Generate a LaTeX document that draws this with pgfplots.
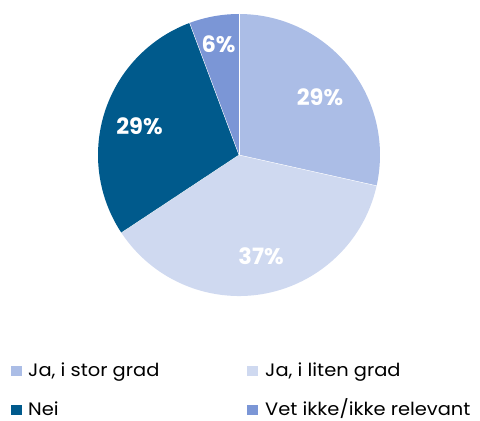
\documentclass[border=0pt]{standalone}
\usepackage{pgfplots}
\pgfplotsset{compat=1.18}
\usepackage{fontspec}
\setmainfont{Poppins}
\newfontfamily\legfont[FakeStretch=1.08]{Poppins}
\definecolor{c1}{HTML}{ABBDE6}
\definecolor{c2}{HTML}{CFD9F0}
\definecolor{c3}{HTML}{005A8C}
\definecolor{c4}{HTML}{7B96D6}
% shares (percent)
\def\vA{28.5}\def\vB{37.2}\def\vC{28.6}\def\vD{5.7}
\pgfmathsetmacro{\aO}{90}
\pgfmathsetmacro{\aA}{\aO-3.6*\vA}
\pgfmathsetmacro{\aB}{\aA-3.6*\vB}
\pgfmathsetmacro{\aC}{\aB-3.6*\vC}
\pgfmathsetmacro{\aD}{\aC-3.6*\vD}
\begin{document}
\begin{tikzpicture}
\begin{axis}[
  x=1pt, y=1pt, xmin=0, xmax=480, ymin=0, ymax=421,
  hide axis, clip=false,
]
\path (axis cs:0,0) rectangle (axis cs:480,421);
\fill[c1] (axis cs:239,266) -- +(\aO:141pt) arc[start angle=\aO, end angle=\aA, radius=141pt] -- cycle;
\fill[c2] (axis cs:239,266) -- +(\aA:141pt) arc[start angle=\aA, end angle=\aB, radius=141pt] -- cycle;
\fill[c3] (axis cs:239,266) -- +(\aB:141pt) arc[start angle=\aB, end angle=\aC, radius=141pt] -- cycle;
\fill[c4] (axis cs:239,266) -- +(\aC:141pt) arc[start angle=\aC, end angle=\aD, radius=141pt] -- cycle;
\draw[white, line width=0.4pt] (axis cs:239,266) -- +(\aO:141pt);
\draw[white, line width=0.4pt] (axis cs:239,266) -- +(\aA:141pt);
\draw[white, line width=0.4pt] (axis cs:239,266) -- +(\aB:141pt);
\draw[white, line width=0.4pt] (axis cs:239,266) -- +(\aC:141pt);
\node[anchor=base, inner sep=0pt, text=white, font=\fontsize{22.5}{26}\selectfont\bfseries] at (axis cs:320,315) {29\%};
\node[anchor=base, inner sep=0pt, text=white, font=\fontsize{22.5}{26}\selectfont\bfseries] at (axis cs:261,156) {37\%};
\node[anchor=base, inner sep=0pt, text=white, font=\fontsize{22.5}{26}\selectfont\bfseries] at (axis cs:139.5,286) {29\%};
\node[anchor=base, inner sep=0pt, text=white, font=\fontsize{22.5}{26}\selectfont\bfseries] at (axis cs:218.5,368) {6\%};
% legend
\fill[c1] (axis cs:11,45) rectangle (axis cs:22,55);
\fill[c2] (axis cs:247,45) rectangle (axis cs:258,55);
\fill[c3] (axis cs:11,6) rectangle (axis cs:22,16);
\fill[c4] (axis cs:247,6) rectangle (axis cs:258,16);
\node[anchor=base west, inner sep=0pt, font=\legfont\fontsize{18}{21}\selectfont] at (axis cs:28,44) {Ja, i stor grad};
\node[anchor=base west, inner sep=0pt, font=\legfont\fontsize{18}{21}\selectfont] at (axis cs:265,44) {Ja, i liten grad};
\node[anchor=base west, inner sep=0pt, font=\legfont\fontsize{18}{21}\selectfont] at (axis cs:28,5.5) {Nei};
\node[anchor=base west, inner sep=0pt, font=\legfont\fontsize{18}{21}\selectfont] at (axis cs:265,5.5) {Vet ikke/ikke relevant};
\end{axis}
\end{tikzpicture}
\end{document}
